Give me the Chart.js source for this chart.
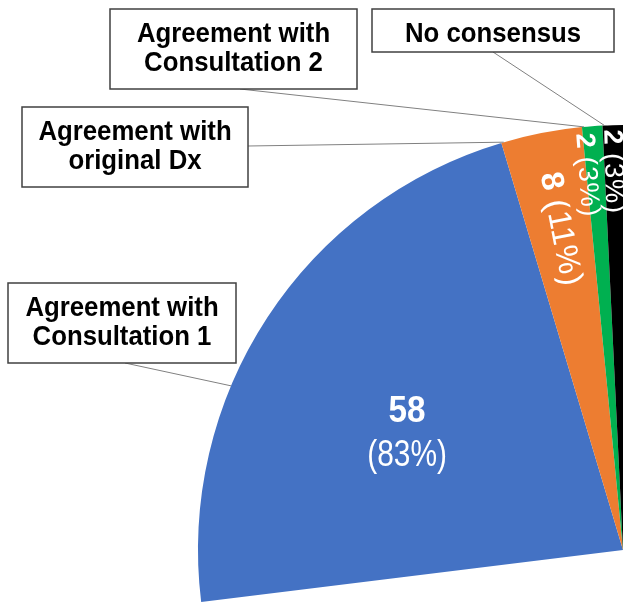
<!DOCTYPE html>
<html>
<head>
<meta charset="utf-8">
<script src="https://cdn.jsdelivr.net/npm/chart.js@4.4.1/dist/chart.umd.min.js"></script>
<style>
  html, body { margin: 0; padding: 0; background: #fff; }
  #wrap { width: 623px; height: 604px; position: relative; }
</style>
</head>
<body>
<div id="wrap"><canvas id="pie"></canvas></div>
<script>
// data
const categories = ['Agreement with Consultation 1', 'Agreement with original Dx', 'Agreement with Consultation 2', 'No consensus'];
const calloutLines = [['Agreement with', 'Consultation 1'], ['Agreement with', 'original Dx'], ['Agreement with', 'Consultation 2'], ['No consensus']];
const counts = [58, 8, 2, 2];
const colours = ['#4472C4', '#ED7D31', '#00B050', '#000000'];

// callout boxes (layout only): box rect, where the leader leaves the box,
// and how far along the slice the leader lands
const boxes = [
  { x: 8, y: 283, w: 228, h: 80, from: [125, 363], at: 0.37 },
  { x: 22, y: 107, w: 226, h: 80, from: [248, 146], at: 0.03 },
  { x: 110, y: 9, w: 247, h: 80, from: [240, 89], at: 0.1 },
  { x: 372, y: 9, w: 242, h: 43, from: [493, 52], at: 0.1 },
];
// rotated slice labels: radial start (fraction of radius), font size, sideways nudge in px
const labelStyle = [null, { r: 0.905, size: 32, shift: 0 }, { r: 0.985, size: 27, shift: 9 }, { r: 0.99, size: 27, shift: 1 }];

const FONT = '"Liberation Sans", Arial, sans-serif';

function squeezedText(ctx, text, x, y, sx) {
  ctx.save();
  ctx.translate(x, y);
  ctx.scale(sx, 1);
  ctx.fillText(text, 0, 0);
  ctx.restore();
}

const calloutPlugin = {
  id: 'callouts',
  afterDatasetsDraw(chart) {
    const ctx = chart.ctx;
    const arcs = chart.getDatasetMeta(0).data;
    const total = counts.reduce((a, b) => a + b, 0);

    arcs.forEach((arc, i) => {
      const p = arc.getProps(['x', 'y', 'startAngle', 'endAngle', 'outerRadius'], true);
      const pct = Math.round(counts[i] / total * 100);
      const mid = (p.startAngle + p.endAngle) / 2;

      // slice labels
      ctx.save();
      ctx.fillStyle = '#fff';
      if (i === 0) {
        const ax = p.x + Math.cos(mid) * p.outerRadius * 0.607;
        const ay = p.y + Math.sin(mid) * p.outerRadius * 0.607;
        ctx.textAlign = 'center';
        ctx.textBaseline = 'middle';
        ctx.font = 'bold 37px ' + FONT;
        squeezedText(ctx, String(counts[i]), ax, ay + 3, 0.9);
        ctx.font = '36px ' + FONT;
        squeezedText(ctx, '(' + pct + '%)', ax, ay + 47, 0.83);
      } else {
        const st = labelStyle[i];
        const r0 = p.outerRadius * st.r;
        ctx.translate(p.x + Math.cos(mid) * r0, p.y + Math.sin(mid) * r0);
        ctx.rotate(mid + Math.PI);
        ctx.textAlign = 'left';
        ctx.textBaseline = 'middle';
        ctx.font = 'bold ' + st.size + 'px ' + FONT;
        ctx.fillText(String(counts[i]), 0, st.shift);
        const w = ctx.measureText(String(counts[i])).width;
        ctx.font = st.size + 'px ' + FONT;
        ctx.letterSpacing = '1px';
        ctx.fillText(' (' + pct + '%)', w, st.shift);
      }
      ctx.restore();

      // leader line
      const b = boxes[i];
      const ang = p.startAngle + (p.endAngle - p.startAngle) * b.at;
      ctx.save();
      ctx.strokeStyle = '#808080';
      ctx.lineWidth = 1;
      ctx.beginPath();
      ctx.moveTo(b.from[0], b.from[1]);
      ctx.lineTo(p.x + Math.cos(ang) * p.outerRadius, p.y + Math.sin(ang) * p.outerRadius);
      ctx.stroke();
      ctx.restore();
    });

    // callout boxes
    boxes.forEach((b, i) => {
      ctx.save();
      ctx.fillStyle = '#fff';
      ctx.fillRect(b.x, b.y, b.w, b.h);
      ctx.strokeStyle = '#404040';
      ctx.lineWidth = 1.5;
      ctx.strokeRect(b.x, b.y, b.w, b.h);
      ctx.fillStyle = '#000';
      ctx.textAlign = 'center';
      ctx.textBaseline = 'alphabetic';
      ctx.font = 'bold 28px ' + FONT;
      const cx = b.x + b.w / 2;
      const cy = b.y + b.h / 2;
      const lines = calloutLines[i];
      if (lines.length === 2) {
        squeezedText(ctx, lines[0], cx, cy - 7, 0.92);
        squeezedText(ctx, lines[1], cx, cy + 22, 0.92);
      } else {
        squeezedText(ctx, lines[0], cx, cy + 11, 0.92);
      }
      ctx.restore();
    });
  }
};

new Chart(document.getElementById('pie'), {
  type: 'pie',
  data: {
    labels: categories,
    datasets: [{
      data: counts,
      backgroundColor: colours,
      borderWidth: 0,
      clip: false,
    }],
  },
  options: {
    responsive: true,
    maintainAspectRatio: false,
    animation: false,
    rotation: -97,
    circumference: 97,
    radius: 425,
    layout: { padding: { left: 198, top: 123, right: 0, bottom: 0 } },
    plugins: {
      legend: { display: false },
      tooltip: { enabled: false },
    },
  },
  plugins: [calloutPlugin],
});
</script>
</body>
</html>
